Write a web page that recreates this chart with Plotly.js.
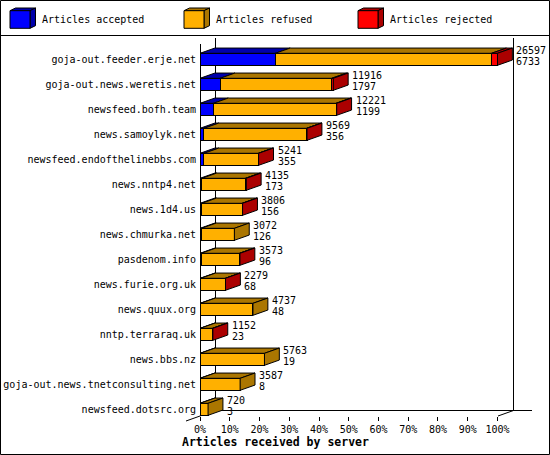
<!DOCTYPE html>
<html>
<head>
<meta charset="utf-8">
<script src="https://cdn.plot.ly/plotly-3.0.1.min.js"></script>
<style>
  body { margin: 0; background: #fff; }
  #chart { width: 550px; height: 455px; }
</style>
</head>
<body>
<div id="chart"></div>
<script>
// articles per peer server
const servers = [
  'goja-out.feeder.erje.net', 'goja-out.news.weretis.net', 'newsfeed.bofh.team',
  'news.samoylyk.net', 'newsfeed.endofthelinebbs.com', 'news.nntp4.net',
  'news.1d4.us', 'news.chmurka.net', 'pasdenom.info', 'news.furie.org.uk',
  'news.quux.org', 'nntp.terraraq.uk', 'news.bbs.nz',
  'goja-out.news.tnetconsulting.net', 'newsfeed.dotsrc.org'
];
const accepted = [6733, 1797, 1199, 356, 355, 173, 156, 126, 96, 68, 48, 23, 19, 8, 3];
const refused = [19327, 9979, 10962, 9173, 4856, 3882, 3610, 2946, 3427, 2191, 4689, 1089, 5744, 3579, 717];
const rejected = [537, 140, 60, 40, 30, 80, 40, 0, 50, 20, 0, 40, 0, 0, 0];
const pctTicks = [0, 10, 20, 30, 40, 50, 60, 70, 80, 90, 100];

const seriesNames = ['Articles accepted', 'Articles refused', 'Articles rejected'];
const front = ['#0000ff', '#ffb000', '#ff0000'];
const dark = ['#0000ab', '#ab7600', '#ab0000'];
const mono = 'DejaVu Sans Mono, monospace';

// plot area in pixels
const ml = 200, mt = 38, pw = 332, ph = 378;
const X = (px) => (px - ml) / pw;
const Y = (py) => (mt + ph - py) / ph;

const totals = servers.map((s, i) => accepted[i] + refused[i] + rejected[i]);
const maxTotal = Math.max(...totals);
const pct = (v) => v / maxTotal * 100;
const idx = servers.map((s, i) => i);

const half = 0.24, dx = 5, dy = 0.21;

let traces = [accepted, refused, rejected].map((vals, k) => ({
  type: 'bar',
  orientation: 'h',
  name: seriesNames[k],
  y: idx,
  x: vals.map(pct),
  width: 0.48,
  marker: { color: front[k], line: { color: '#000', width: 1 } },
  showlegend: false,
  hoverinfo: 'skip'
}));

// 3d top and side faces
let faces = [];
servers.forEach((s, i) => {
  let segs = [accepted[i], refused[i], rejected[i]];
  let x0 = 0, last = 0;
  segs.forEach((v, k) => {
    if (v <= 0) return;
    let x1 = x0 + pct(v);
    faces.push({
      type: 'scatter', mode: 'lines', fill: 'toself', fillcolor: dark[k],
      x: [x0, x1, x1 + dx, x0 + dx, x0],
      y: [i - half, i - half, i - half - dy, i - half - dy, i - half],
      line: { color: '#000', width: 1 }, showlegend: false, hoverinfo: 'skip'
    });
    x0 = x1;
    last = k;
  });
  faces.push({
    type: 'scatter', mode: 'lines', fill: 'toself', fillcolor: dark[last],
    x: [x0, x0 + dx, x0 + dx, x0, x0],
    y: [i - half, i - half - dy, i + half - dy, i + half, i - half],
    line: { color: '#000', width: 1 }, showlegend: false, hoverinfo: 'skip'
  });
});

// value labels: total on top, accepted below
let annotations = [];
servers.forEach((s, i) => {
  let xe = pct(totals[i]) + dx;
  annotations.push({ x: xe, y: i, xref: 'x', yref: 'y', xanchor: 'left', yanchor: 'middle',
    xshift: 2, yshift: 9, text: String(totals[i]), showarrow: false,
    font: { family: mono, size: 10, color: '#000' } });
  annotations.push({ x: xe, y: i, xref: 'x', yref: 'y', xanchor: 'left', yanchor: 'middle',
    xshift: 2, yshift: -2.4, text: String(accepted[i]), showarrow: false,
    font: { family: mono, size: 10, color: '#000' } });
});

annotations.push({ x: X(275), y: Y(442), xref: 'paper', yref: 'paper', xanchor: 'center', yanchor: 'middle',
  text: '<b>Articles received by server</b>', showarrow: false,
  font: { family: mono, size: 11.5, color: '#000' } });

const line = (x0, y0, x1, y1) => ({ type: 'line', xref: 'paper', yref: 'paper',
  x0: X(x0), y0: Y(y0), x1: X(x1), y1: Y(y1), line: { color: '#000', width: 1 }, layer: 'below' });
const poly = (pts, color) => ({ type: 'path', xref: 'paper', yref: 'paper',
  path: 'M' + pts.map(p => X(p[0]) + ',' + Y(p[1])).join('L') + 'Z',
  fillcolor: color, line: { color: '#000', width: 1 } });

let shapes = [
  { type: 'rect', xref: 'paper', yref: 'paper', x0: X(0.5), y0: Y(0.5), x1: X(549.5), y1: Y(454.5),
    line: { color: '#000', width: 1 } },
  line(0, 35.5, 550, 35.5),
  line(200.5, 44, 200.5, 416),
  line(215.5, 38, 215.5, 410.5),
  line(513.5, 38, 513.5, 410.5),
  line(215.5, 410.5, 532, 410.5),
  line(186, 421, 215.5, 410.5),
  line(498, 416, 513.5, 410.5)
];

// legend with little cubes
seriesNames.forEach((name, k) => {
  let lx = 10 + 174 * k, ly = 10.7;
  shapes.push(poly([[lx, ly], [lx + 5.5, ly - 2.7], [lx + 25.5, ly - 2.7], [lx + 20, ly]], dark[k]));
  shapes.push(poly([[lx + 20, ly], [lx + 25.5, ly - 2.7], [lx + 25.5, ly + 15], [lx + 20, ly + 17.6]], dark[k]));
  shapes.push(poly([[lx, ly], [lx + 20, ly], [lx + 20, ly + 17.6], [lx, ly + 17.6]], front[k]));
  annotations.push({ x: X(lx + 30), y: Y(20), xref: 'paper', yref: 'paper', xanchor: 'left', yanchor: 'middle',
    text: name, showarrow: false, font: { family: mono, size: 10, color: '#000' } });
});

let layout = {
  width: 550,
  height: 455,
  margin: { l: ml, r: 550 - ml - pw, t: mt, b: 455 - mt - ph, pad: 0 },
  paper_bgcolor: '#fff',
  plot_bgcolor: 'rgba(0,0,0,0)',
  barmode: 'stack',
  showlegend: false,
  font: { family: mono, size: 10, color: '#000' },
  xaxis: {
    range: [0, 111.6],
    tickvals: pctTicks,
    ticktext: pctTicks.map(t => t + '%'),
    ticks: 'outside', ticklen: 4, tickcolor: '#000', tickwidth: 1,
    showgrid: false, zeroline: false, showline: false,
    tickfont: { family: mono, size: 10 }
  },
  yaxis: {
    range: [14.268, -0.852],
    tickvals: idx,
    ticktext: servers,
    ticks: '',
    ticklabelstandoff: 3,
    showgrid: false, zeroline: false, showline: false,
    tickfont: { family: mono, size: 10 }
  },
  shapes: shapes,
  annotations: annotations
};

Plotly.newPlot('chart', traces.concat(faces), layout, { staticPlot: true });
</script>
</body>
</html>
